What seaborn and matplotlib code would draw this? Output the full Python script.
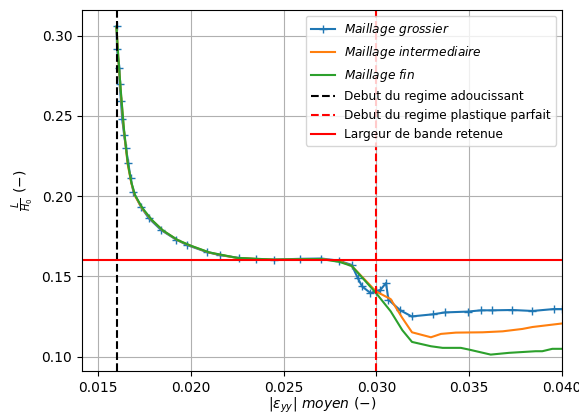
import numpy as np
import pandas as pd
import matplotlib
matplotlib.use('Agg')
import matplotlib.pyplot as plt
import seaborn as sns

# maillage grossier (avec marqueurs)
x_grossier = [0.01600, 0.01603, 0.01615, 0.01617, 0.01624, 0.01631, 0.01641, 0.01651, 0.01663,
              0.01676, 0.01691, 0.01731, 0.01774, 0.01842, 0.01921, 0.01982, 0.02090, 0.02156,
              0.02258, 0.02353, 0.02448, 0.02586, 0.02703, 0.02796, 0.02867, 0.02900, 0.02923,
              0.02968, 0.02998, 0.03022, 0.03052, 0.03065, 0.03129, 0.03190, 0.03303, 0.03371,
              0.03491, 0.03563, 0.03622, 0.03733, 0.03841, 0.03957, 0.04000]
y_grossier = [0.3058, 0.2917, 0.2797, 0.2696, 0.2592, 0.2478, 0.2383, 0.2300, 0.2209,
              0.2110, 0.2027, 0.1934, 0.1862, 0.1787, 0.1729, 0.1694, 0.1650, 0.1632,
              0.1615, 0.1607, 0.1604, 0.1609, 0.1611, 0.1598, 0.1571, 0.1489, 0.1437,
              0.1396, 0.1406, 0.1416, 0.1458, 0.1354, 0.1288, 0.1250, 0.1263, 0.1275,
              0.1280, 0.1288, 0.1288, 0.1290, 0.1284, 0.1296, 0.1296]

# maillage intermediaire
x_inter = [0.01600, 0.01610, 0.01625, 0.01640, 0.01660, 0.01680, 0.01700, 0.01740, 0.01790,
           0.01850, 0.01930, 0.02000, 0.02100, 0.02250, 0.02450, 0.02700, 0.02800, 0.02867,
           0.02998, 0.03077, 0.03140, 0.03192, 0.03294, 0.03348, 0.03428, 0.03572, 0.03680,
           0.03787, 0.03841, 0.04000]
y_inter = [0.3050, 0.2850, 0.2620, 0.2410, 0.2200, 0.2080, 0.2000, 0.1920, 0.1850,
           0.1785, 0.1725, 0.1690, 0.1648, 0.1614, 0.1603, 0.1608, 0.1595, 0.1565,
           0.1406, 0.1358, 0.1240, 0.1151, 0.1120, 0.1141, 0.1149, 0.1151, 0.1157,
           0.1172, 0.1184, 0.1206]

# maillage fin
x_fin = [0.01600, 0.01610, 0.01625, 0.01640, 0.01660, 0.01680, 0.01700, 0.01740, 0.01790,
         0.01850, 0.01930, 0.02000, 0.02100, 0.02250, 0.02450, 0.02700, 0.02800, 0.02867,
         0.02998, 0.03077, 0.03140, 0.03192, 0.03294, 0.03357, 0.03455, 0.03500, 0.03616,
         0.03715, 0.03858, 0.03894, 0.03948, 0.04000]
y_fin = [0.3055, 0.2860, 0.2630, 0.2420, 0.2210, 0.2085, 0.2005, 0.1925, 0.1852,
         0.1786, 0.1726, 0.1691, 0.1649, 0.1615, 0.1604, 0.1608, 0.1590, 0.1565,
         0.1396, 0.1282, 0.1164, 0.1091, 0.1064, 0.1054, 0.1054, 0.1043, 0.1012,
         0.1023, 0.1033, 0.1033, 0.1048, 0.1048]

eps_adoucissant = 0.016
eps_plastique = 0.030
largeur_bande = 0.16

fig, ax = plt.subplots(figsize=(5.79, 4.15), dpi=100)
plt.subplots_adjust(left=0.1416, right=0.9706, top=0.976, bottom=0.106)

sns.lineplot(x=x_grossier, y=y_grossier, marker='+', markersize=6, markeredgewidth=1.0,
             markeredgecolor='tab:blue', color='tab:blue', sort=False, estimator=None,
             label=r'$Maillage\ grossier$', ax=ax)
sns.lineplot(x=x_inter, y=y_inter, color='tab:orange', sort=False, estimator=None,
             label=r'$Maillage\ intermediaire$', ax=ax)
sns.lineplot(x=x_fin, y=y_fin, color='tab:green', sort=False, estimator=None,
             label=r'$Maillage\ fin$', ax=ax)
ax.axvline(eps_adoucissant, color='black', linestyle='--', label='Debut du regime adoucissant')
ax.axvline(eps_plastique, color='red', linestyle='--', label='Debut du regime plastique parfait')
ax.axhline(largeur_bande, color='red', label='Largeur de bande retenue')

ax.set_xlim(0.01414, 0.040)
ax.set_xticks([0.015, 0.020, 0.025, 0.030, 0.035, 0.040])
ax.grid(True)
ax.set_xlabel(r'$|\varepsilon_{yy}|$ $moyen$ $(-)$', labelpad=1)
ax.set_ylabel(r'$\frac{L}{H_0}$ $(-)$')

ax.legend(loc='upper right', fontsize=8.7)

plt.savefig('out.png', dpi=100)
